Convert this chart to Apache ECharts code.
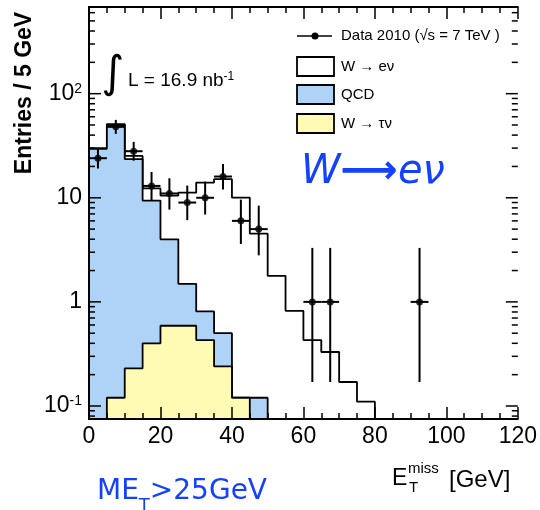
<!DOCTYPE html>
<html><head><meta charset="utf-8">
<script src="https://cdn.jsdelivr.net/npm/echarts@6/dist/echarts.min.js"></script>
<style>html,body{margin:0;padding:0;background:#fff}#c{width:540px;height:510px}</style>
</head><body><div id="c"></div>
<script>
// ---- data ----
const binLo   = [0, 5, 10, 15, 20, 25, 30, 35, 40, 45, 50, 55, 60, 65, 70, 75];
const binWidth = 5;
const wenu    = [0.5, 1.0, 1.7, 2.9, 6.5, 9.7, 13.2, 14.6, 9.9, 4.4, 1.78, 0.82, 0.43, 0.33, 0.17, 0.11];
const qcd     = [29.5, 49.9, 23.3, 9.0, 3.4, 0.90, 0.38, 0.26, 0, 0.12, 0, 0, 0, 0, 0, 0];
const wtaunu  = [0, 0.12, 0.23, 0.40, 0.59, 0.59, 0.43, 0.24, 0.12, 0, 0, 0, 0, 0, 0, 0];

const dataX    = [2.5, 7.5, 12.5, 17.5, 22.5, 27.5, 32.5, 37.5, 42.5, 47.5, 62.5, 67.5, 92.5];
const dataY    = [24, 48, 28, 13, 11, 9, 10, 16, 6, 5, 1, 1, 1];
const dataLow  = [19.1, 41.1, 22.7, 9.4, 7.7, 6.1, 6.9, 12.0, 3.6, 2.8, 0.17, 0.17, 0.17];
const dataHigh = [30.0, 56.0, 34.4, 17.7, 15.4, 13.1, 14.3, 21.1, 9.6, 8.4, 3.3, 3.3, 3.3];

const xTicks = [0, 20, 40, 60, 80, 100, 120];
const yTicks = [0.1, 1, 10, 100];
const yTickLabels = ['{b|10}{s|-1}', '1', '10', '{b|10}{s|2}'];

const XMIN = 0, XMAX = 120, YMIN = 0.075, YMAX = 680;

// ---- build stacked histogram outlines ----
const blueTop  = binLo.map((_, i) => qcd[i] + wtaunu[i]);
const whiteTop = binLo.map((_, i) => blueTop[i] + wenu[i]);

function stepData(vals) {
  let first = vals.findIndex(v => v > 0);
  let last = vals.length - 1;
  while (last >= 0 && !(vals[last] > 0)) last--;
  const pts = [[binLo[first], YMIN]];
  for (let i = first; i <= last; i++) pts.push([binLo[i], vals[i] > 0 ? vals[i] : YMIN]);
  const end = binLo[last] + binWidth;
  pts.push([end, vals[last]]);
  pts.push([end, YMIN]);
  return pts;
}

// y-axis tick marks (log decades + 2..9 sub-ticks)
const yTickMarks = [];
for (let e = -2; e <= 2; e++) for (let m = 1; m <= 9; m++) {
  const v = m * Math.pow(10, e);
  if (v > YMIN && v < YMAX) yTickMarks.push([XMIN, v, m === 1 ? 12 : 6]);
}

const FONT = 'Liberation Sans, Arial, sans-serif';
const tickStyle = { color: '#000', width: 1.5 };

function histSeries(name, vals, fill, z) {
  return {
    name, type: 'line', step: 'end', data: stepData(vals),
    symbol: 'none', silent: true, z,
    lineStyle: { color: '#000', width: 1.8 },
    areaStyle: { color: fill, opacity: 1, origin: 'start' },
    animation: false
  };
}

const chart = echarts.init(document.getElementById('c'), null, { renderer: 'canvas' });
chart.setOption({
  animation: false,
  backgroundColor: '#fff',
  grid: { left: 89, right: 22, top: 7, bottom: 91, show: false },
  xAxis: [
    { type: 'value', min: XMIN, max: XMAX, interval: 20, position: 'bottom', z: 10,
      axisLine: { show: true, lineStyle: { color: '#000', width: 2 } },
      axisTick: { show: true, inside: true, length: 12, lineStyle: tickStyle },
      minorTick: { show: true, splitNumber: 4, length: 6, lineStyle: tickStyle },
      splitLine: { show: false },
      axisLabel: { fontFamily: FONT, fontSize: 23, color: '#000', margin: 6,
        formatter: v => xTicks.includes(v) ? String(v) : '' } },
    { type: 'value', min: XMIN, max: XMAX, interval: 20, position: 'top', z: 10,
      axisLine: { show: true, lineStyle: { color: '#000', width: 2 } },
      axisTick: { show: true, inside: true, length: 12, lineStyle: tickStyle },
      minorTick: { show: true, splitNumber: 4, length: 6, lineStyle: tickStyle },
      splitLine: { show: false }, axisLabel: { show: false } }
  ],
  yAxis: [
    { type: 'log', logBase: 10, min: YMIN, max: YMAX, position: 'left', z: 10,
      axisLine: { show: true, lineStyle: { color: '#000', width: 2 } },
      axisTick: { show: false },
      splitLine: { show: false },
      axisLabel: { fontFamily: FONT, fontSize: 23, color: '#000', margin: 7,
        showMinLabel: false, showMaxLabel: false,
        formatter: v => {
          const k = yTicks.findIndex(t => Math.abs(Math.log10(t) - Math.log10(v)) < 1e-6);
          return k >= 0 ? yTickLabels[k] : '';
        },
        rich: {
          b: { fontFamily: FONT, fontSize: 23, color: '#000', lineHeight: 24 },
          s: { fontFamily: FONT, fontSize: 14, color: '#000', verticalAlign: 'top', lineHeight: 14 }
        } } },
    { type: 'log', logBase: 10, min: YMIN, max: YMAX, position: 'right', z: 10,
      axisLine: { show: true, lineStyle: { color: '#000', width: 2 } },
      axisTick: { show: false },
      splitLine: { show: false }, axisLabel: { show: false } }
  ],
  series: [
    histSeries('W → eν', whiteTop, '#ffffff', 2),
    histSeries('QCD', blueTop, '#afd2f7', 3),
    histSeries('W → τν', wtaunu, '#fffab4', 4),
    { name: 'errors', type: 'custom', z: 6, silent: true,
      data: dataX.map((x, i) => [x, dataY[i], dataLow[i], dataHigh[i]]),
      renderItem: (params, api) => {
        const x = api.value(0), y = api.value(1), lo = api.value(2), hi = api.value(3);
        const a = api.coord([x, lo]), b = api.coord([x, hi]);
        const c = api.coord([x - binWidth / 2, y]), d = api.coord([x + binWidth / 2, y]);
        const st = { stroke: '#000', lineWidth: 2 };
        return { type: 'group', children: [
          { type: 'line', shape: { x1: a[0], y1: a[1], x2: b[0], y2: b[1] }, style: st },
          { type: 'line', shape: { x1: c[0], y1: c[1], x2: d[0], y2: d[1] }, style: st }
        ] };
      } },
    { name: 'Data 2010', type: 'scatter', z: 7, silent: true,
      data: dataX.map((x, i) => [x, dataY[i]]),
      symbol: 'circle', symbolSize: 7, itemStyle: { color: '#000' } },
    { name: 'yTicks', type: 'custom', z: 11, silent: true, data: yTickMarks,
      renderItem: (params, api) => {
        const v = api.value(1), len = api.value(2);
        const l = api.coord([XMIN, v]), r = api.coord([XMAX, v]);
        const st = { stroke: '#000', lineWidth: 1.5 };
        return { type: 'group', children: [
          { type: 'line', shape: { x1: l[0], y1: l[1], x2: l[0] + len, y2: l[1] }, style: st },
          { type: 'line', shape: { x1: r[0], y1: r[1], x2: r[0] - len, y2: r[1] }, style: st }
        ] };
      } }
  ],
  graphic: [
    // y-axis title
    { type: 'text', x: 25, y: 93, rotation: Math.PI / 2, z: 20,
      style: { text: 'Entries / 5 GeV', font: 'bold 23px ' + FONT, fill: '#000', align: 'center', verticalAlign: 'middle' } },
    // x-axis title  E_T^miss [GeV]
    { type: 'text', x: 392, y: 479, z: 20, style: { text: 'E', font: '23px ' + FONT, fill: '#000', align: 'left', verticalAlign: 'middle' } },
    { type: 'text', x: 408, y: 469, z: 20, style: { text: 'miss', font: '15px ' + FONT, fill: '#000', align: 'left', verticalAlign: 'middle' } },
    { type: 'text', x: 409, y: 488, z: 20, style: { text: 'T', font: '15px ' + FONT, fill: '#000', align: 'left', verticalAlign: 'middle' } },
    { type: 'text', x: 449, y: 480, z: 20, style: { text: '[GeV]', font: '24px ' + FONT, fill: '#000', align: 'left', verticalAlign: 'middle' } },
    // luminosity
    { type: 'text', x: 113, y: 76, z: 20, style: { text: '∫', font: '44px DejaVu Sans', fill: '#000', align: 'center', verticalAlign: 'middle' } },
    { type: 'text', x: 128, y: 81, z: 20, style: { text: '{a|L = 16.9 nb}{s|-1}', align: 'left', verticalAlign: 'middle',
        rich: { a: { font: '19px ' + FONT, fill: '#000', lineHeight: 20 }, s: { font: '12px ' + FONT, fill: '#000', verticalAlign: 'top', lineHeight: 12 } } } },
    // legend
    { type: 'line', z: 20, shape: { x1: 297, y1: 36, x2: 332, y2: 36 }, style: { stroke: '#000', lineWidth: 1.5 } },
    { type: 'circle', z: 21, shape: { cx: 315, cy: 36, r: 3.5 }, style: { fill: '#000' } },
    { type: 'text', x: 341, y: 36, z: 20, style: { text: 'Data 2010 (√s = 7 TeV )', font: '15px ' + FONT, fill: '#000', align: 'left', verticalAlign: 'middle' } },
    { type: 'rect', z: 20, shape: { x: 297, y: 57, width: 37, height: 19 }, style: { fill: '#ffffff', stroke: '#000', lineWidth: 1.8 } },
    { type: 'text', x: 341, y: 66.5, z: 20, style: { text: 'W → eν', font: '15px ' + FONT, fill: '#000', align: 'left', verticalAlign: 'middle' } },
    { type: 'rect', z: 20, shape: { x: 297, y: 85, width: 37, height: 19 }, style: { fill: '#afd2f7', stroke: '#000', lineWidth: 1.8 } },
    { type: 'text', x: 341, y: 94.5, z: 20, style: { text: 'QCD', font: '15px ' + FONT, fill: '#000', align: 'left', verticalAlign: 'middle' } },
    { type: 'rect', z: 20, shape: { x: 297, y: 114, width: 37, height: 19 }, style: { fill: '#fffab4', stroke: '#000', lineWidth: 1.8 } },
    { type: 'text', x: 341, y: 123.5, z: 20, style: { text: 'W → τν', font: '15px ' + FONT, fill: '#000', align: 'left', verticalAlign: 'middle' } },
    // blue annotations
    { type: 'text', x: 301, y: 173, z: 20, style: { text: '{i|W}{r|⟶}{i|eν}', align: 'left', verticalAlign: 'middle',
        rich: { i: { font: 'italic 40px DejaVu Sans', fill: '#1441ff' }, r: { font: 'bold 40px DejaVu Sans', fill: '#1441ff' } } } },
    { type: 'text', x: 97, y: 492, z: 20, style: { text: '{m|ME}{t|T}{m|>25GeV}', align: 'left', verticalAlign: 'middle',
        rich: { m: { font: '28px DejaVu Sans', fill: '#1441ff', lineHeight: 30 }, t: { font: '18px DejaVu Sans', fill: '#1441ff', verticalAlign: 'bottom', lineHeight: 18, padding: [0, 0, -8, 0] } } } }
  ]
});
</script></body></html>
